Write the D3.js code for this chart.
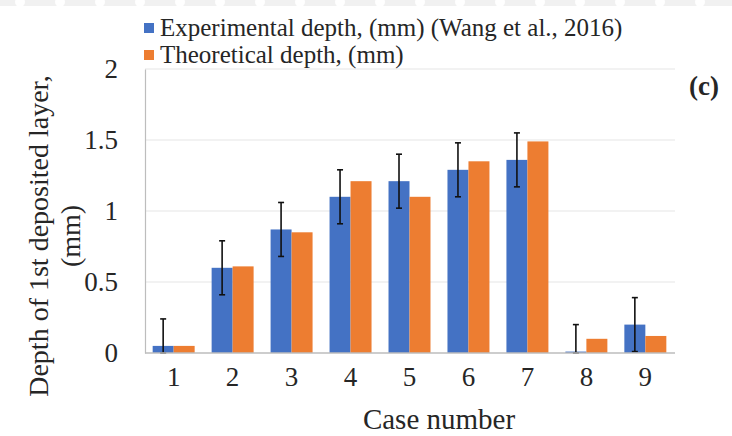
<!DOCTYPE html>
<html>
<head>
<meta charset="utf-8">
<script src="https://cdn.jsdelivr.net/npm/d3@7/dist/d3.min.js"></script>
<style>
  html, body { margin: 0; padding: 0; background: #fff; }
  svg { display: block; }
</style>
</head>
<body>
<svg id="chart" width="732" height="436"></svg>
<script>
// Case numbers on the x axis
const cases = ["1", "2", "3", "4", "5", "6", "7", "8", "9"];
// Depth of the first deposited layer (mm)
const experimental = [0.05, 0.60, 0.87, 1.10, 1.21, 1.29, 1.36, 0.01, 0.20];
const theoretical  = [0.05, 0.61, 0.85, 1.21, 1.10, 1.35, 1.49, 0.10, 0.12];
// Error bar half-widths for the experimental series (mm)
const experimentalError = [0.19, 0.19, 0.19, 0.19, 0.19, 0.19, 0.19, 0.19, 0.19];
const yTicks = [0, 0.5, 1, 1.5, 2];
const seriesNames = ["Experimental depth, (mm) (Wang et al., 2016)", "Theoretical depth, (mm)"];
const seriesColors = ["#4472C4", "#ED7D31"];

const FONT = '"Liberation Serif", "Times New Roman", serif';
const INK = "#262626";
const svg = d3.select("#chart");

// faint dotted strip along the top edge
const defs = svg.append("defs");
const pat = defs.append("pattern").attr("id", "dots")
  .attr("width", 40).attr("height", 8).attr("patternUnits", "userSpaceOnUse");
pat.append("rect").attr("width", 40).attr("height", 8).attr("fill", "#f1f1f1");
pat.append("circle").attr("cx", 20).attr("cy", 2).attr("r", 5).attr("fill", "#fff");
svg.append("rect").attr("x", 0).attr("y", 0).attr("width", 732).attr("height", 6)
  .attr("fill", "url(#dots)");

const x = d3.scaleBand().domain(cases).range([144, 675])
  .paddingInner(0.288).paddingOuter(0.147);
const xs = d3.scaleBand().domain([0, 1]).range([0, x.bandwidth()]);
const y = d3.scaleLinear().domain([0, 2]).range([353, 69]);

// horizontal gridlines
svg.append("g").selectAll("line").data(yTicks.filter(t => t > 0)).join("line")
  .attr("x1", 145).attr("x2", 675)
  .attr("y1", d => y(d)).attr("y2", d => y(d))
  .attr("stroke", "#e6e6e6").attr("stroke-width", 1.2);

// y axis
const yAxis = svg.append("g").attr("transform", "translate(145,0)")
  .call(d3.axisLeft(y).tickValues(yTicks).tickSize(0).tickPadding(27)
    .tickFormat(d3.format("~g")));
yAxis.select(".domain").attr("stroke", "#bdbdbd").attr("stroke-width", 1.2);
yAxis.selectAll("text").attr("font-size", 27).attr("fill", INK)
  .style("font-family", FONT);

// bars
const data = cases.map((c, i) => ({ c, vals: [experimental[i], theoretical[i]], err: experimentalError[i] }));
const groups = svg.append("g").selectAll("g").data(data).join("g")
  .attr("transform", d => `translate(${x(d.c)},0)`);
groups.selectAll("rect").data(d => d.vals.map((v, k) => ({ v, k }))).join("rect")
  .attr("x", d => xs(d.k)).attr("width", xs.bandwidth())
  .attr("y", d => y(d.v)).attr("height", d => y(0) - y(d.v))
  .attr("fill", d => seriesColors[d.k]);

// x axis
const xAxis = svg.append("g").attr("transform", "translate(0,353)")
  .call(d3.axisBottom(x).tickSize(0).tickPadding(14));
xAxis.select(".domain").attr("stroke", "#bdbdbd").attr("stroke-width", 1.5)
  .attr("d", "M145,0H675");
xAxis.selectAll("text").attr("font-size", 27).attr("fill", INK)
  .style("font-family", FONT);

// error bars on the experimental series
const eb = groups.append("g")
  .attr("transform", `translate(${xs(0) + xs.bandwidth() / 2},0)`)
  .attr("stroke", "#111").attr("stroke-width", 1.6);
eb.append("line")
  .attr("y1", d => y(Math.max(0, d.vals[0] - d.err)))
  .attr("y2", d => y(d.vals[0] + d.err));
eb.append("line").attr("x1", -3).attr("x2", 3)
  .attr("y1", d => y(d.vals[0] + d.err)).attr("y2", d => y(d.vals[0] + d.err));
eb.append("line").attr("x1", -3).attr("x2", 3)
  .attr("y1", d => y(Math.max(0, d.vals[0] - d.err)))
  .attr("y2", d => y(Math.max(0, d.vals[0] - d.err)));

// axis titles
svg.append("text").attr("x", 439).attr("y", 429).attr("text-anchor", "middle")
  .attr("font-size", 29).attr("fill", INK).style("font-family", FONT).text("Case number");
const yTitle = svg.append("text").attr("transform", "translate(0,236) rotate(-90)")
  .attr("text-anchor", "middle").attr("font-size", 28).attr("fill", INK)
  .style("font-family", FONT);
yTitle.append("tspan").attr("x", 0).attr("y", 48).text("Depth of 1st deposited layer,");
yTitle.append("tspan").attr("x", 0).attr("y", 80).text("(mm)");

// panel label
svg.append("text").attr("x", 704).attr("y", 95).attr("text-anchor", "middle")
  .attr("font-size", 27).attr("font-weight", "bold").attr("fill", INK)
  .style("font-family", FONT).text("(c)");

// legend
const legend = svg.append("g").selectAll("g").data(seriesNames).join("g")
  .attr("transform", (d, i) => `translate(144,${23 + i * 27})`);
legend.append("rect").attr("width", 10).attr("height", 10)
  .attr("fill", (d, i) => seriesColors[i]);
legend.append("text").attr("x", 16).attr("y", 13).attr("font-size", 25)
  .attr("fill", INK).style("font-family", FONT).text(d => d);
</script>
</body>
</html>
